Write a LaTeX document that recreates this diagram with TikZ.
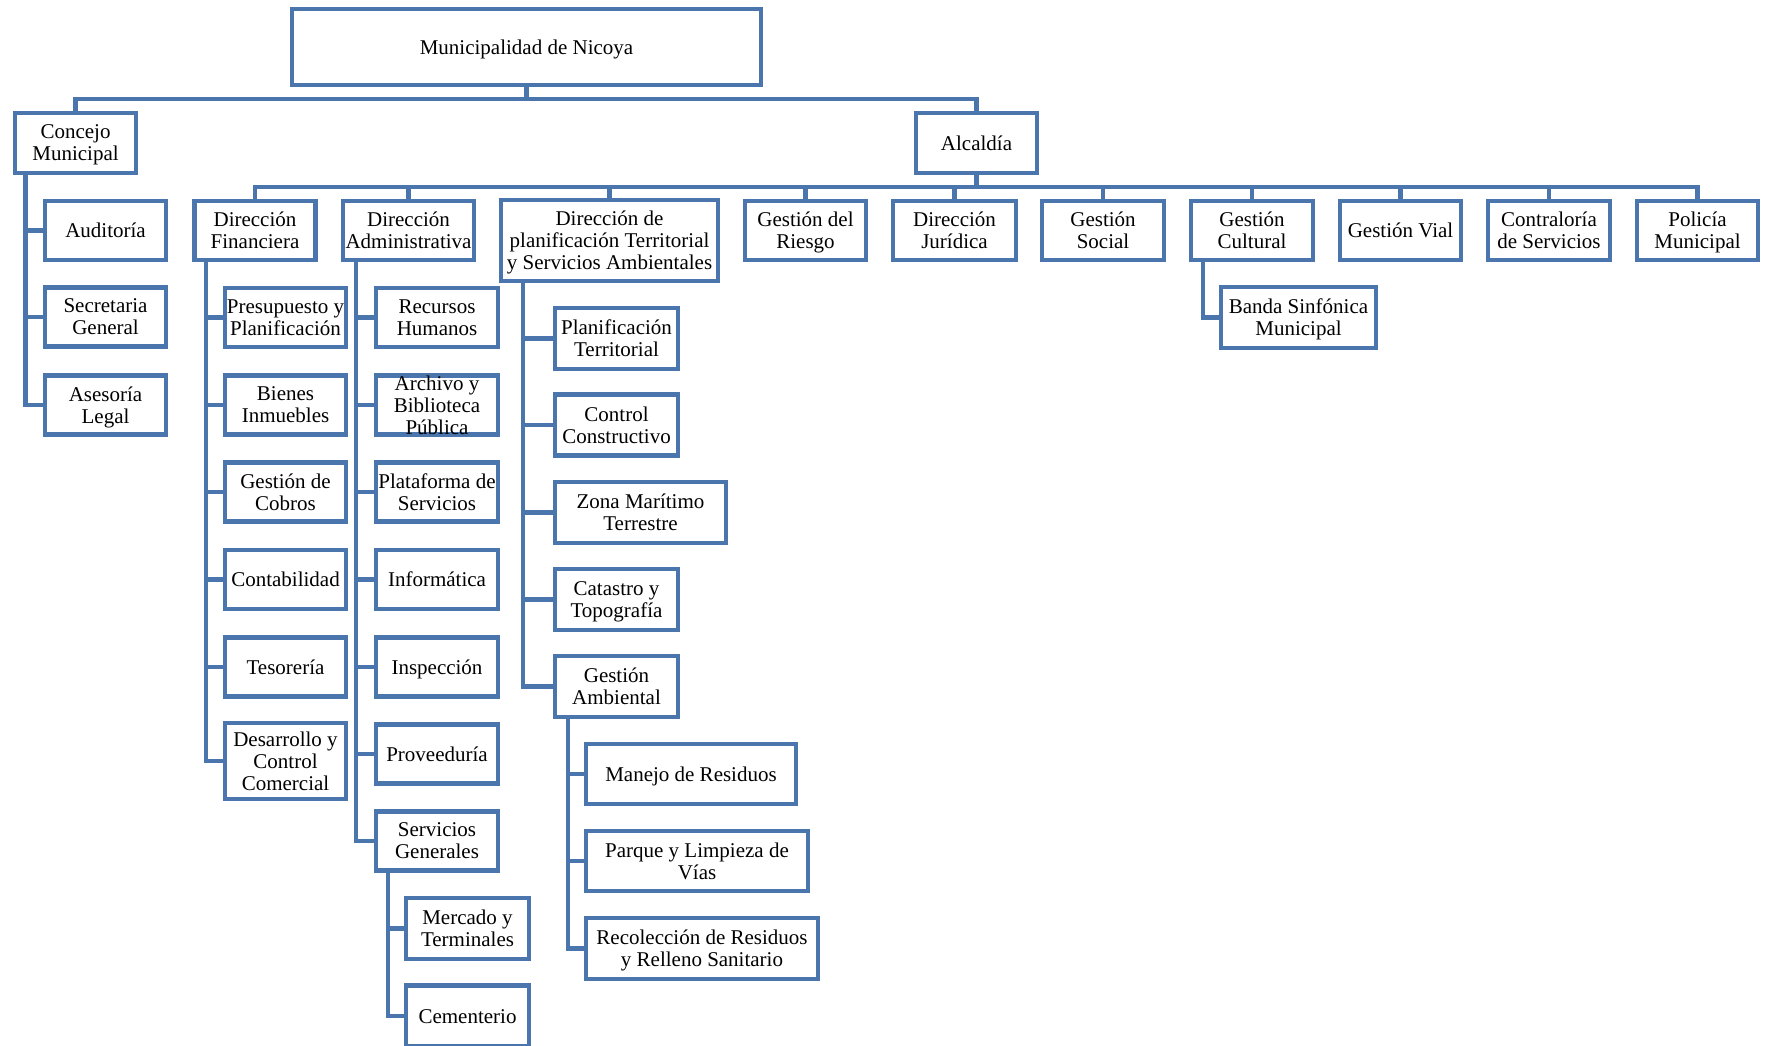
\documentclass[tikz,border=0pt]{standalone}
\usepackage{fontspec}
\setmainfont{Liberation Serif}
\definecolor{orgblue}{RGB}{74,118,173}
\newcommand\boxstrutA{\rule[-4.6pt]{0pt}{23.4pt}}
\tikzset{
  boxbase/.style={draw=orgblue, line width=4.3pt, inner sep=0pt, align=center,
    font=\fontsize{21}{22}\selectfont},
  box/.style={boxbase, text depth=-1.7pt},
  sbox/.style={boxbase, execute at begin node=\boxstrutA, execute at end node=\boxstrutA},
  conn/.style={draw=orgblue, line width=4.4pt},
}
\begin{document}
\begin{tikzpicture}[x=1pt,y=-1pt]
\useasboundingbox (0,0) rectangle (1767,1046);
% top
\node[sbox, minimum width=469, minimum height=76] (muni) at (526.5,47) {Municipalidad de Nicoya};
\node[box, minimum width=121, minimum height=60] (concejo) at (75.5,143) {Concejo\\Municipal};
\node[sbox, minimum width=121, minimum height=60] (alc) at (976.5,143) {Alcaldía};
% level 2
\node[box, minimum width=121, minimum height=59] (fin) at (255,230.5) {Dirección\\Financiera};
\node[box, minimum width=131, minimum height=59] (adm) at (408.5,230.5) {Dirección\\Administrativa};
\node[box, minimum width=217, minimum height=81] (dpt) at (609.5,240.5) {Dirección de\\planificación Territorial\\y Servicios Ambientales};
\node[box, minimum width=121, minimum height=59] (rie) at (805.5,230.5) {Gestión del\\Riesgo};
\node[box, minimum width=123, minimum height=59] (jur) at (954.5,230.5) {Dirección\\Jurídica};
\node[box, minimum width=122, minimum height=59] (soc) at (1103,230.5) {Gestión\\Social};
\node[box, minimum width=122, minimum height=59] (cul) at (1252,230.5) {Gestión\\Cultural};
\node[sbox, minimum width=121, minimum height=59] (vial) at (1400.5,230.5) {Gestión Vial};
\node[box, minimum width=122, minimum height=59] (con) at (1549,230.5) {Contraloría\\de Servicios};
\node[box, minimum width=121, minimum height=59] (pol) at (1697.5,230.5) {Policía\\Municipal};
% concejo children
\node[sbox, minimum width=121, minimum height=59] (aud) at (105.5,230.5) {Auditoría};
\node[box, minimum width=121, minimum height=59] (sec) at (105.5,317) {Secretaria\\General};
\node[box, minimum width=121, minimum height=59] (ase) at (105.5,405) {Asesoría\\Legal};
% financiera children
\node[box, minimum width=121, minimum height=59] (pre) at (285.5,317.5) {Presupuesto y\\Planificación};
\node[box, minimum width=121, minimum height=59] (bie) at (285.5,405) {Bienes\\Inmuebles};
\node[box, minimum width=121, minimum height=59] (cob) at (285.5,492) {Gestión de\\Cobros};
\node[sbox, minimum width=121, minimum height=59] (cont) at (285.5,579.5) {Contabilidad};
\node[sbox, minimum width=121, minimum height=59] (tes) at (285.5,667) {Tesorería};
\node[box, minimum width=121, minimum height=76] (des) at (285.5,761) {Desarrollo y\\Control\\Comercial};
% admin children
\node[box, minimum width=122, minimum height=59] (rh) at (437,317.5) {Recursos\\Humanos};
\node[box, minimum width=122, minimum height=59] (arch) at (437,405) {Archivo y\\Biblioteca\\Pública};
\node[box, minimum width=122, minimum height=59] (plat) at (437,492) {Plataforma de\\Servicios};
\node[sbox, minimum width=122, minimum height=59] (inf) at (437,579.5) {Informática};
\node[sbox, minimum width=122, minimum height=59] (insp) at (437,667) {Inspección};
\node[sbox, minimum width=122, minimum height=59] (prov) at (437,754) {Proveeduría};
\node[box, minimum width=122, minimum height=59] (serv) at (437,841) {Servicios\\Generales};
\node[box, minimum width=123, minimum height=61] (mer) at (467.5,928.5) {Mercado y\\Terminales};
\node[sbox, minimum width=123, minimum height=61] (cem) at (467.5,1016) {Cementerio};
% dpt children
\node[box, minimum width=123, minimum height=61] (pt) at (616.5,338.5) {Planificación\\Territorial};
\node[box, minimum width=123, minimum height=61] (cc) at (616.5,425) {Control\\Constructivo};
\node[box, minimum width=171, minimum height=61] (zmt) at (640.5,512.5) {Zona Marítimo\\Terrestre};
\node[box, minimum width=123, minimum height=61] (cat) at (616.5,599.5) {Catastro y\\Topografía};
\node[box, minimum width=123, minimum height=61] (ga) at (616.5,686.5) {Gestión\\Ambiental};
\node[sbox, minimum width=210, minimum height=60] (man) at (691,774) {Manejo de Residuos};
\node[box, minimum width=222, minimum height=60] (par) at (697,861) {Parque y Limpieza de\\Vías};
\node[box, minimum width=232, minimum height=61] (rec) at (702,948.5) {Recolección de Residuos\\y Relleno Sanitario};
% cultural child
\node[box, minimum width=155, minimum height=61] (ban) at (1298.5,317.5) {Banda Sinfónica\\Municipal};
% connectors top
\coordinate (t1) at (0,99);
\coordinate (t2) at (0,187);
\draw[conn] (muni.south) -- (muni.south |- t1);
\draw[conn] (concejo.north) |- (t1 -| alc.north) -- (alc.north);
\draw[conn] (alc.south) -- (alc.south |- t2);
\draw[conn] (fin.north) |- (t2 -| pol.north) -- (pol.north);
\foreach \n in {adm,dpt,rie,jur,soc,cul,vial,con}
  \draw[conn] (\n.north) -- (\n.north |- t2);
% vertical trunks
\coordinate (cv) at (25.5,0);
\coordinate (fv) at (206,0);
\coordinate (av) at (356,0);
\coordinate (sv) at (388,0);
\coordinate (dv) at (523,0);
\coordinate (gv) at (568,0);
\coordinate (kv) at (1203,0);
\foreach \n in {aud,sec,ase} \draw[conn] (cv |- concejo.south) |- (\n.west);
\foreach \n in {pre,bie,cob,cont,tes,des} \draw[conn] (fv |- fin.south) |- (\n.west);
\foreach \n in {rh,arch,plat,inf,insp,prov,serv} \draw[conn] (av |- adm.south) |- (\n.west);
\foreach \n in {mer,cem} \draw[conn] (sv |- serv.south) |- (\n.west);
\foreach \n in {pt,cc,zmt,cat,ga} \draw[conn] (dv |- dpt.south) |- (\n.west);
\foreach \n in {man,par,rec} \draw[conn] (gv |- ga.south) |- (\n.west);
\draw[conn] (kv |- cul.south) |- (ban.west);
\end{tikzpicture}
\end{document}
